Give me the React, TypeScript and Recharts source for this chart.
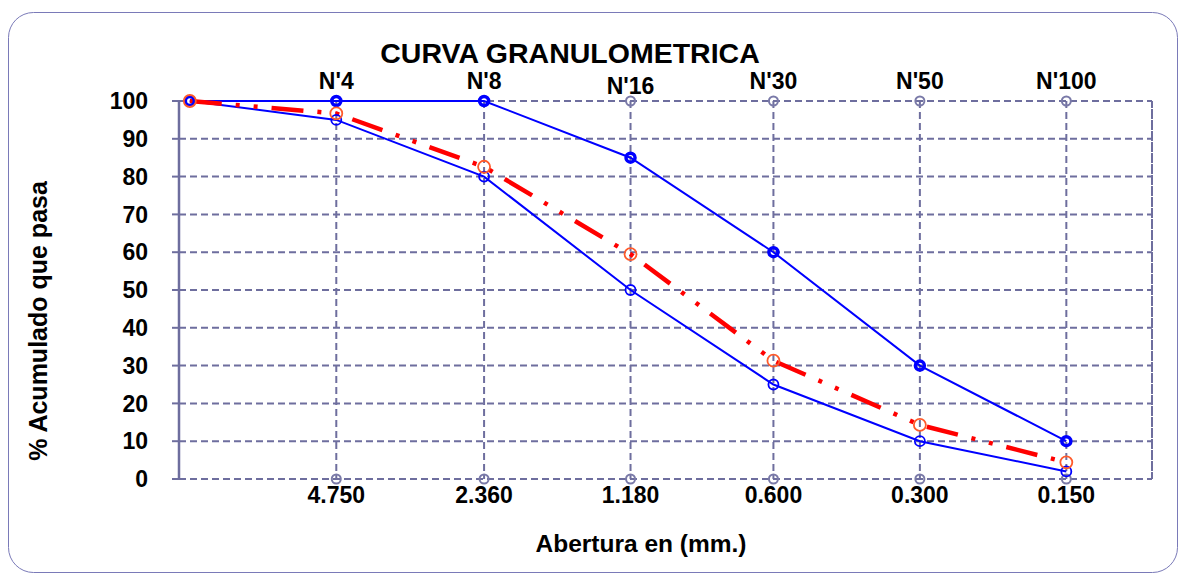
import {
  CartesianGrid,
  ComposedChart,
  Line,
  ReferenceLine,
  XAxis,
  YAxis,
} from 'recharts';

// aberturas de tamiz (mm) y nombre de cada tamiz
const aberturas = [9.5, 4.75, 2.36, 1.18, 0.6, 0.3, 0.15];
const tamices = ['3/8"', "N'4", "N'8", "N'16", "N'30", "N'50", "N'100"];

// % acumulado que pasa
const limiteSuperior = [100, 100, 100, 85, 60, 30, 10];
const limiteInferior = [100, 95, 80, 50, 25, 10, 2];
const muestra = [100, 96.7, 82.6, 59.5, 31.3, 14.3, 4.4];

const yTicks = [0, 10, 20, 30, 40, 50, 60, 70, 80, 90, 100];
const yMinorTicks = Array.from({ length: 51 }, (_, i) => i * 2);
const xTicks = aberturas.slice(1);

const FONT = '"Liberation Sans", Arial, sans-serif';
const GRID = '#6e6e9e';

const granulometria = aberturas.map((abertura, i) => ({
  abertura,
  superior: limiteSuperior[i],
  inferior: limiteInferior[i],
  muestra: muestra[i],
}));

const marcasTamiz = xTicks.map((abertura) => ({ abertura, tope: 100, base: 0 }));

function TopTick({ x, y, payload }: any) {
  const idx = aberturas.indexOf(payload.value);
  const label = tamices[idx] ?? '';
  return (
    <text
      x={x}
      y={y}
      dy={label === "N'16" ? 5 : 0}
      textAnchor="middle"
      fontFamily={FONT}
      fontWeight="bold"
      fontSize={23}
      fill="#000"
    >
      {label}
    </text>
  );
}

function BottomTick({ x, y, payload }: any) {
  return (
    <text x={x} y={y} textAnchor="middle" fontFamily={FONT} fontWeight="bold" fontSize={23} fill="#000">
      {payload.value.toFixed(3)}
    </text>
  );
}

export default function App() {
  return (
    <div style={{ position: 'absolute', left: 0, top: 0, width: 1180, height: 574, background: '#fff' }}>
      <svg width={1180} height={574} style={{ position: 'absolute', left: 0, top: 0 }}>
        <rect x={8.5} y={12.5} width={1169} height={560} rx={25} fill="#fff" stroke="#7a7ab8" />
        <text x={570} y={63} textAnchor="middle" fontFamily={FONT} fontWeight="bold" fontSize={28.5} fill="#000">
          CURVA GRANULOMETRICA
        </text>
        <text x={641} y={552} textAnchor="middle" fontFamily={FONT} fontWeight="bold" fontSize={24.5} fill="#000">
          Abertura en (mm.)
        </text>
        <text
          x={47}
          y={321}
          transform="rotate(-90 47 321)"
          textAnchor="middle"
          fontFamily={FONT}
          fontWeight="bold"
          fontSize={25}
          fill="#000"
        >
          % Acumulado que pasa
        </text>
      </svg>
      <div style={{ position: 'absolute', left: 0, top: 0 }}>
        <ComposedChart
          width={1180}
          height={574}
          data={granulometria}
          margin={{ top: 71, right: 28, bottom: 55, left: 29 }}
        >
          <CartesianGrid stroke={GRID} strokeWidth={2} strokeDasharray="7 4" />
          <XAxis
            dataKey="abertura"
            type="number"
            scale="log"
            domain={[0.1, 10]}
            allowDataOverflow
            reversed
            ticks={xTicks}
            height={40}
            axisLine={false}
            tickLine={false}
            tickSize={0}
            tickMargin={24}
            tick={<BottomTick />}
          />
          <XAxis
            xAxisId="top"
            orientation="top"
            dataKey="abertura"
            type="number"
            scale="log"
            domain={[0.1, 10]}
            allowDataOverflow
            reversed
            ticks={xTicks}
            height={30}
            axisLine={false}
            tickLine={false}
            tickSize={0}
            tickMargin={12}
            tick={<TopTick />}
          />
          <YAxis
            type="number"
            domain={[0, 100]}
            ticks={yTicks}
            width={150}
            axisLine={{ stroke: GRID, strokeWidth: 2.5 }}
            tickLine={{ stroke: GRID, strokeWidth: 2 }}
            tickSize={7}
            tickMargin={24}
            tick={{ fill: '#000', fontSize: 23, fontWeight: 'bold', fontFamily: FONT }}
          />
          <YAxis
            yAxisId="minor"
            type="number"
            domain={[0, 100]}
            ticks={yMinorTicks}
            mirror
            width={0}
            axisLine={false}
            tick={false}
            tickSize={6}
            tickLine={{ stroke: GRID, strokeWidth: 2 }}
          />
          <ReferenceLine x={0.1} stroke={GRID} strokeWidth={2} strokeDasharray="7 4" />
          <Line
            data={marcasTamiz}
            dataKey="tope"
            stroke="none"
            dot={{ r: 4.5, stroke: '#7a7aa8', strokeWidth: 2, fill: 'none' }}
            isAnimationActive={false}
          />
          <Line
            data={marcasTamiz}
            dataKey="base"
            stroke="none"
            dot={{ r: 4.5, stroke: '#7a7aa8', strokeWidth: 2, fill: 'none' }}
            isAnimationActive={false}
          />
          <Line
            dataKey="inferior"
            stroke="#0000ff"
            strokeWidth={2}
            dot={{ r: 5, stroke: '#0000ff', strokeWidth: 1.8, fill: 'none' }}
            isAnimationActive={false}
          />
          <Line
            dataKey="superior"
            stroke="#0000ff"
            strokeWidth={2}
            dot={{ r: 4.5, stroke: '#0000ff', strokeWidth: 3.5, fill: 'none' }}
            isAnimationActive={false}
          />
          <Line
            dataKey="muestra"
            stroke="#ff0000"
            strokeWidth={4.5}
            strokeDasharray="32 14 4 14 4 14"
            dot={{ r: 6, stroke: '#ff5a2a', strokeWidth: 1.8, fill: 'none', strokeDasharray: 'none' }}
            isAnimationActive={false}
          />
        </ComposedChart>
      </div>
    </div>
  );
}
